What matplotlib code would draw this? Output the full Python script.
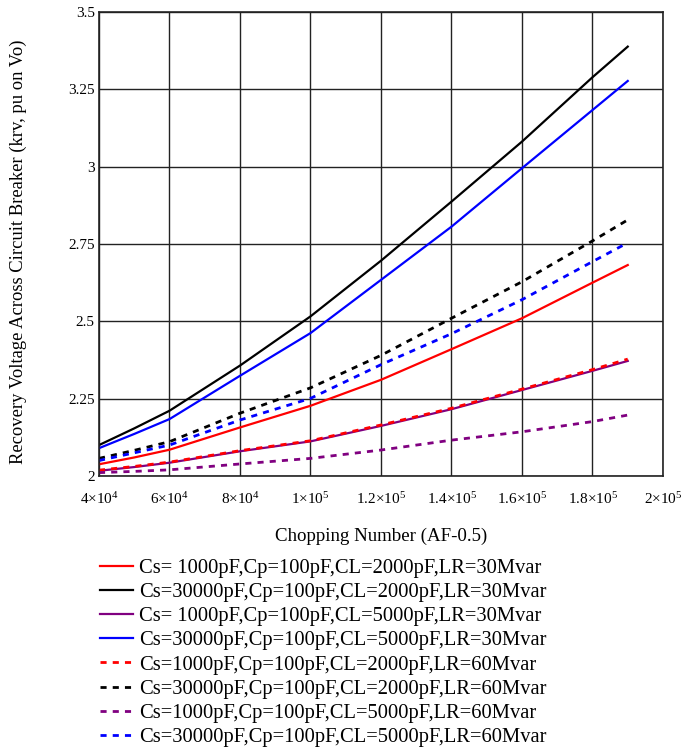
import matplotlib
matplotlib.use("Agg")
import matplotlib.pyplot as plt
from matplotlib.ticker import FixedLocator, FixedFormatter

plt.rcParams['font.family'] = ['Liberation Serif', 'DejaVu Serif']
plt.rcParams['mathtext.fontset'] = 'custom'
plt.rcParams['mathtext.rm'] = 'Liberation Serif'
plt.rcParams['mathtext.it'] = 'Liberation Serif:italic'

# Chopping number samples
chop = [4e4, 5e4, 6e4, 8e4, 1e5, 1.2e5, 1.4e5, 1.6e5, 1.8e5, 1.9e5]

# Recovery voltage (pu) for each circuit configuration
cs1k_cl2k_lr30 = [2.038, 2.060, 2.085, 2.157, 2.227, 2.311, 2.410, 2.510, 2.625, 2.682]
cs30k_cl2k_lr30 = [2.100, 2.154, 2.211, 2.357, 2.516, 2.696, 2.887, 3.081, 3.289, 3.388]
cs1k_cl5k_lr30 = [2.017, 2.029, 2.043, 2.080, 2.112, 2.162, 2.216, 2.278, 2.340, 2.372]
cs30k_cl5k_lr30 = [2.090, 2.136, 2.184, 2.324, 2.462, 2.634, 2.806, 2.995, 3.183, 3.277]
cs1k_cl2k_lr60 = [2.019, 2.031, 2.045, 2.082, 2.114, 2.165, 2.219, 2.281, 2.344, 2.378]
cs30k_cl2k_lr60 = [2.057, 2.083, 2.111, 2.203, 2.285, 2.390, 2.510, 2.628, 2.760, 2.828]
cs1k_cl5k_lr60 = [2.011, 2.015, 2.020, 2.039, 2.057, 2.084, 2.116, 2.143, 2.176, 2.197]
cs30k_cl5k_lr60 = [2.050, 2.075, 2.100, 2.181, 2.251, 2.360, 2.460, 2.570, 2.693, 2.754]

series_labels = [
    "Cs= 1000pF,Cp=100pF,CL=2000pF,LR=30Mvar",
    "Cs=30000pF,Cp=100pF,CL=2000pF,LR=30Mvar",
    "Cs= 1000pF,Cp=100pF,CL=5000pF,LR=30Mvar",
    "Cs=30000pF,Cp=100pF,CL=5000pF,LR=30Mvar",
    "Cs=1000pF,Cp=100pF,CL=2000pF,LR=60Mvar",
    "Cs=30000pF,Cp=100pF,CL=2000pF,LR=60Mvar",
    "Cs=1000pF,Cp=100pF,CL=5000pF,LR=60Mvar",
    "Cs=30000pF,Cp=100pF,CL=5000pF,LR=60Mvar",
]

x_ticks = [4e4, 6e4, 8e4, 1e5, 1.2e5, 1.4e5, 1.6e5, 1.8e5, 2e5]
x_tick_labels = [r'$\mathrm{4{\times}10^{4}}$', r'$\mathrm{6{\times}10^{4}}$',
                 r'$\mathrm{8{\times}10^{4}}$', r'$\mathrm{1{\times}10^{5}}$',
                 r'$\mathrm{1.2{\times}10^{5}}$', r'$\mathrm{1.4{\times}10^{5}}$',
                 r'$\mathrm{1.6{\times}10^{5}}$', r'$\mathrm{1.8{\times}10^{5}}$',
                 r'$\mathrm{2{\times}10^{5}}$']
y_ticks = [2, 2.25, 2.5, 2.75, 3, 3.25, 3.5]
y_tick_labels = ['2', '2.25', '2.5', '2.75', '3', '3.25', '3.5']

data = [cs1k_cl2k_lr30, cs30k_cl2k_lr30, cs1k_cl5k_lr30, cs30k_cl5k_lr30,
        cs1k_cl2k_lr60, cs30k_cl2k_lr60, cs1k_cl5k_lr60, cs30k_cl5k_lr60]
colors = ['#ff0000', '#000000', '#800080', '#0000ff',
          '#ff0000', '#000000', '#800080', '#0000ff']
dashed = [False, False, False, False, True, True, True, True]

fig = plt.figure(figsize=(6.84, 7.48), dpi=100)
ax = fig.add_axes([0.1447, 0.3636, 0.8246, 0.6204])

handles = []
for ys, c, d, lab in zip(data, colors, dashed, series_labels):
    if d:
        h, = ax.plot(chop, ys, color=c, lw=2.0, dashes=(2.2, 2.2), label=lab)
    else:
        h, = ax.plot(chop, ys, color=c, lw=1.6, label=lab)
    handles.append(h)

ax.set_xlim(4e4, 2e5)
ax.set_ylim(2, 3.5)
ax.xaxis.set_major_locator(FixedLocator(x_ticks))
ax.xaxis.set_major_formatter(FixedFormatter(x_tick_labels))
ax.yaxis.set_major_locator(FixedLocator(y_ticks))
ax.yaxis.set_major_formatter(FixedFormatter(y_tick_labels))
ax.grid(True, color='#222222', lw=1.0)
ax.set_axisbelow(True)
ax.tick_params(length=0, labelsize=11)
ax.tick_params(axis='x', pad=11)
ax.tick_params(axis='y', pad=3)
for s in ax.spines.values():
    s.set_color('#222222')
    s.set_linewidth(1.2)

ax.set_xlabel('Chopping Number (AF-0.5)', fontsize=13.6, labelpad=15)
ax.set_ylabel('Recovery Voltage Across Circuit Breaker (krv, pu on Vo)',
              fontsize=13.4)
ax.yaxis.set_label_coords(-0.127, 0.483)

fig.legend(handles=handles, labels=series_labels, loc='upper left',
           bbox_to_anchor=(0.1465, 0.2535), frameon=False, fontsize=14.8,
           handlelength=1.6, handletextpad=0.3, labelspacing=0.235,
           borderpad=0.0, borderaxespad=0.0)

fig.savefig('out.png', dpi=100)
